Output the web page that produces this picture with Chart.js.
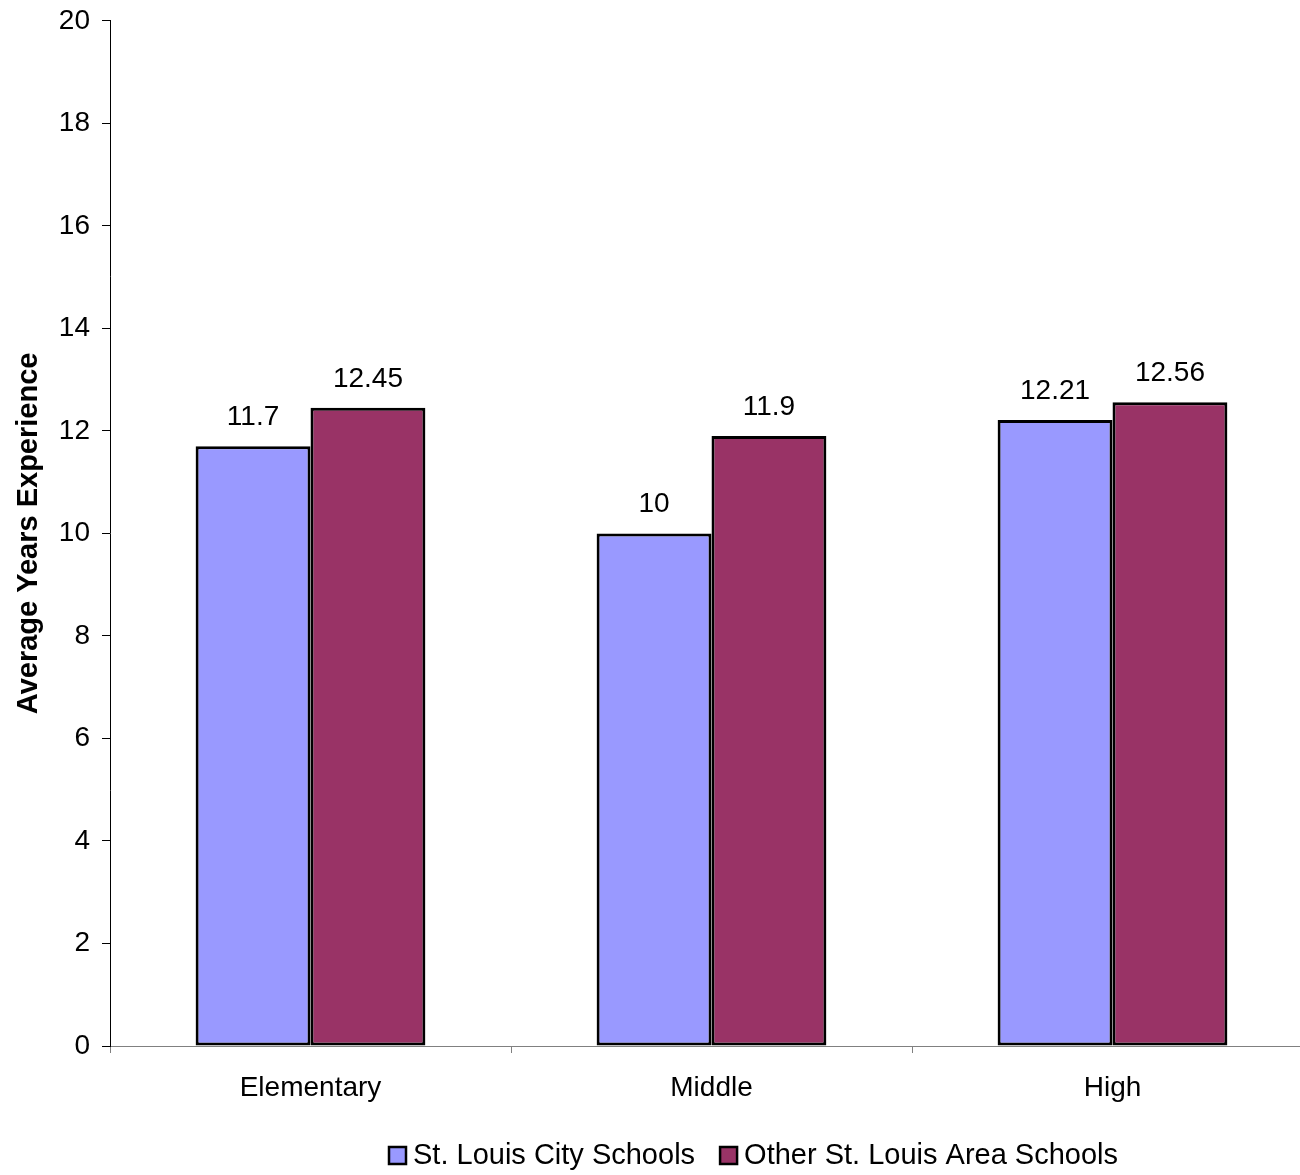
<!DOCTYPE html>
<html>
<head>
<meta charset="utf-8">
<script src="https://cdn.jsdelivr.net/npm/chart.js@4.4.1/dist/chart.umd.min.js"></script>
<style>
  html, body { margin: 0; padding: 0; background: #fff; overflow: hidden; }
  #wrap { position: relative; width: 1300px; height: 1175px; overflow: hidden; }
  #chart { position: absolute; left: 0; top: -8px; }
</style>
</head>
<body>
<div id="wrap"><canvas id="chart" width="1313" height="1183"></canvas></div>
<script>
// data
const categories = ["Elementary", "Middle", "High"];
const cityValues = [11.7, 10, 12.21];
const areaValues = [12.45, 11.9, 12.56];
const seriesNames = ["St. Louis City Schools", "Other St. Louis Area Schools"];
const yTicks = [0, 2, 4, 6, 8, 10, 12, 14, 16, 18, 20];

const FONT = "Arial, 'Liberation Sans', sans-serif";

// value labels above each bar
const barLabels = {
  id: "barLabels",
  afterDatasetsDraw(chart) {
    const ctx = chart.ctx;
    ctx.save();
    ctx.font = "28px " + FONT;
    ctx.fillStyle = "#000";
    ctx.textAlign = "center";
    ctx.textBaseline = "middle";
    chart.data.datasets.forEach((ds, i) => {
      chart.getDatasetMeta(i).data.forEach((bar, j) => {
        ctx.fillText(String(ds.data[j]), bar.x, bar.y - 29);
      });
    });
    ctx.restore();
  }
};

// legend drawn by hand, Excel style
const bottomLegend = {
  id: "bottomLegend",
  afterDraw(chart) {
    const ctx = chart.ctx;
    ctx.save();
    ctx.font = "29px " + FONT;
    ctx.textBaseline = "middle";
    let x = 389;
    const y = 1164;
    chart.data.datasets.forEach((ds) => {
      ctx.fillStyle = ds.backgroundColor;
      ctx.fillRect(x, y - 9, 17, 17);
      ctx.strokeStyle = "#000";
      ctx.lineWidth = 2.5;
      ctx.strokeRect(x, y - 9, 17, 17);
      ctx.fillStyle = "#000";
      ctx.fillText(ds.label, x + 24, y);
      x += 24 + ctx.measureText(ds.label).width + 25;
    });
    ctx.restore();
  }
};

new Chart(document.getElementById("chart"), {
  type: "bar",
  data: {
    labels: categories,
    datasets: [
      { label: seriesNames[0], data: cityValues, backgroundColor: "#9999FF", borderColor: "#000", borderWidth: 3, borderSkipped: false },
      { label: seriesNames[1], data: areaValues, backgroundColor: "#993366", borderColor: "#000", borderWidth: 3, borderSkipped: false }
    ]
  },
  options: {
    responsive: false,
    animation: false,
    devicePixelRatio: 1,
    layout: { padding: 0 },
    datasets: { bar: { categoryPercentage: 0.573, barPercentage: 1 } },
    plugins: { legend: { display: false }, tooltip: { enabled: false } },
    scales: {
      x: {
        offset: true,
        grid: { offset: true, drawOnChartArea: false, color: "#808080", tickLength: 7 },
        border: { color: "#808080", width: 1 },
        ticks: { color: "#000", font: { size: 28, family: FONT }, padding: 18 },
        afterFit(scale) { scale.height = 129; }
      },
      y: {
        min: 0, max: 20,
        afterBuildTicks(scale) { scale.ticks = yTicks.map(v => ({ value: v })); },
        grid: { drawOnChartArea: false, color: "#000", tickLength: 8 },
        border: { color: "#000", width: 1 },
        ticks: { color: "#000", font: { size: 28, family: FONT }, padding: 12 },
        title: { display: true, text: "Average Years Experience", color: "#000", font: { size: 29, weight: "bold", family: FONT }, padding: { top: 12, bottom: 0 } },
        afterFit(scale) { scale.width = 110; }
      }
    }
  },
  plugins: [barLabels, bottomLegend]
});
</script>
</body>
</html>
